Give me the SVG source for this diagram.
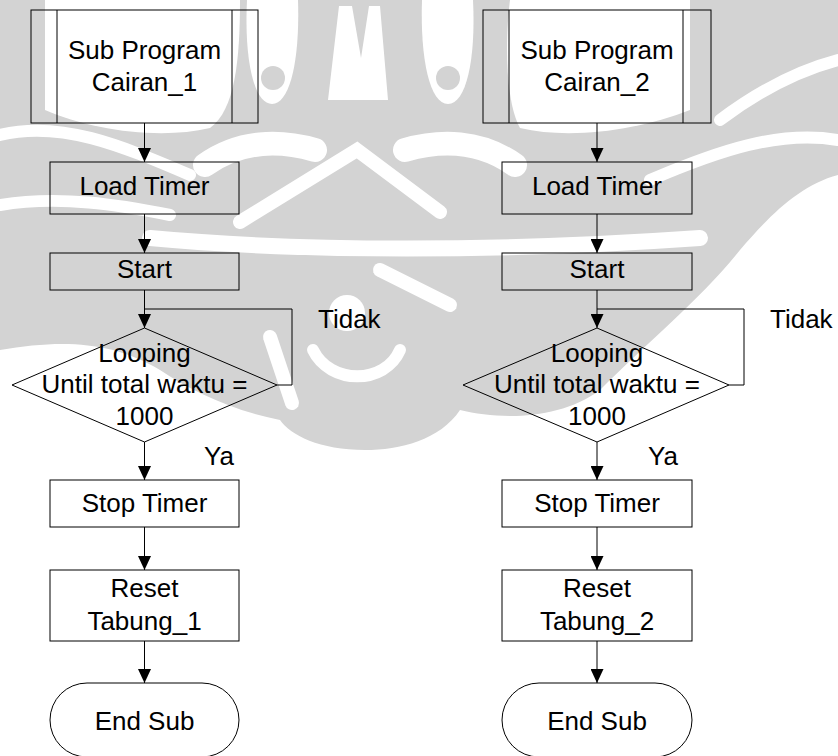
<svg xmlns="http://www.w3.org/2000/svg" width="838" height="756" viewBox="0 0 838 756">
  <defs>
    <marker id="arrow" viewBox="0 0 14 13" refX="14" refY="6.5" markerWidth="14" markerHeight="13" markerUnits="userSpaceOnUse" orient="auto">
      <path d="M0,0 L14,6.5 L0,13 Z" fill="#000"/>
    </marker>
  </defs>
  <style>
    .shape { fill: none; stroke: #000; stroke-width: 1; }
    .wire { fill: none; stroke: #000; stroke-width: 1; }
    .flow { marker-end: url(#arrow); }
    .lbl { font-family: "Liberation Sans", Arial, sans-serif; font-size: 26px; fill: #000; text-anchor: middle; }
    .tag { font-family: "Liberation Sans", Arial, sans-serif; font-size: 26px; fill: #000; }
    .wm { fill: #d3d3d3; }
    .wm-cut { fill: #fff; }
    .wm-line { fill: none; stroke: #fff; stroke-linecap: round; }
  </style>

  <rect width="838" height="756" fill="#fff"/>

  <!-- background emblem -->
  <g id="emblem">
    <path class="wm" d="M0,0 H838 V175 C800,185 770,215 740,250 C700,300 650,340 600,390 C560,420 500,420 460,410 C440,440 400,450 365,450 C320,450 290,435 280,420 C230,410 190,390 160,370 C110,340 60,340 0,350 Z"/>
    <path class="wm-cut" d="M45,0 H240 C240,60 235,110 210,128 C160,140 90,130 45,110 Z"/>
    <path class="wm-cut" d="M510,0 H690 V110 C640,130 570,140 520,128 C505,100 505,40 510,0 Z"/>
    <path class="wm-cut" d="M339,6 L352,6 L361,58 L369,6 L380,6 L388,100 L328,100 Z"/>
    <path class="wm-cut" d="M422,0 C420,60 430,104 448,104 C466,104 476,60 473,0 Z"/>
    <path class="wm-cut" d="M247,0 C244,60 254,104 272,104 C290,104 300,60 298,0 Z"/>
    <circle class="wm" cx="448" cy="78" r="12"/>
    <circle class="wm" cx="273" cy="78" r="12"/>
    <path class="wm-line" stroke-width="14" d="M240,222 L357,150 L440,212"/>
    <path class="wm-line" stroke-width="24" d="M405,150 C440,140 480,140 515,165"/>
    <path class="wm-line" stroke-width="24" d="M315,150 C280,140 240,140 205,165"/>
    <path class="wm-line" stroke-width="16" d="M150,238 C300,252 500,252 700,238"/>
    <path class="wm-line" stroke-width="12" d="M0,135 C60,120 120,145 190,175"/>
    <path class="wm-line" stroke-width="12" d="M0,205 C60,195 120,205 170,215"/>
    <path class="wm-line" stroke-width="12" d="M838,140 C780,130 720,150 650,180"/>
    <path class="wm-line" stroke-width="12" d="M838,60 C800,70 760,90 720,120"/>
    <circle class="wm-cut" cx="347" cy="313" r="18"/>
    <path class="wm-line" stroke-width="12" d="M313,350 C330,385 385,385 400,350"/>
    <path class="wm-line" stroke-width="14" d="M380,270 L450,305"/>
    <path class="wm-line" stroke-width="14" d="M270,337 L292,403"/>
  </g>

  <!-- connectors -->
  <g id="connectors">
    <line class="wire flow" x1="144.5" y1="123" x2="144.5" y2="162"/>
    <line class="wire flow" x1="144.5" y1="214" x2="144.5" y2="253"/>
    <line class="wire flow" x1="144.5" y1="290" x2="144.5" y2="328"/>
    <polyline class="wire" points="277,385 292,385 292,309 144.5,309"/>
    <line class="wire flow" x1="144.5" y1="442" x2="144.5" y2="480"/>
    <line class="wire flow" x1="144.5" y1="527" x2="144.5" y2="570"/>
    <line class="wire flow" x1="144.5" y1="641" x2="144.5" y2="683"/>

    <line class="wire flow" x1="597" y1="123" x2="597" y2="162"/>
    <line class="wire flow" x1="597" y1="214" x2="597" y2="253"/>
    <line class="wire flow" x1="597" y1="290" x2="597" y2="328"/>
    <polyline class="wire" points="729,385 744,385 744,309 597,309"/>
    <line class="wire flow" x1="597" y1="442" x2="597" y2="480"/>
    <line class="wire flow" x1="597" y1="527" x2="597" y2="570"/>
    <line class="wire flow" x1="597" y1="641" x2="597" y2="683"/>

    <text class="tag" x="318" y="328">Tidak</text>
    <text class="tag" x="204" y="465">Ya</text>
    <text class="tag" x="770" y="328">Tidak</text>
    <text class="tag" x="648" y="465">Ya</text>
  </g>

  <!-- left flow -->
  <g id="sub1">
    <rect class="shape" x="31" y="10" width="227" height="113"/>
    <line class="shape" x1="57" y1="10" x2="57" y2="123"/>
    <line class="shape" x1="232" y1="10" x2="232" y2="123"/>
    <text class="lbl" x="144.5" y="59">Sub Program</text>
    <text class="lbl" x="144.5" y="91">Cairan_1</text>
  </g>
  <g id="load1">
    <rect class="shape" x="50" y="162" width="189" height="52"/>
    <text class="lbl" x="144.5" y="195">Load Timer</text>
  </g>
  <g id="start1">
    <rect class="shape" x="50" y="253" width="189" height="37"/>
    <text class="lbl" x="144.5" y="278">Start</text>
  </g>
  <g id="loop1">
    <polygon class="shape" points="144.5,328 277,385 144.5,442 12,385"/>
    <text class="lbl" x="144.5" y="362">Looping</text>
    <text class="lbl" x="144.5" y="393">Until total waktu =</text>
    <text class="lbl" x="144.5" y="425">1000</text>
  </g>
  <g id="stop1">
    <rect class="shape" x="50" y="480" width="189" height="47"/>
    <text class="lbl" x="144.5" y="512">Stop Timer</text>
  </g>
  <g id="reset1">
    <rect class="shape" x="50" y="570" width="189" height="71"/>
    <text class="lbl" x="144.5" y="597">Reset</text>
    <text class="lbl" x="144.5" y="630">Tabung_1</text>
  </g>
  <g id="end1">
    <rect class="shape" x="50" y="683" width="189" height="74" rx="37" ry="37"/>
    <text class="lbl" x="144.5" y="730">End Sub</text>
  </g>

  <!-- right flow -->
  <g id="sub2">
    <rect class="shape" x="483" y="10" width="228" height="113"/>
    <line class="shape" x1="509" y1="10" x2="509" y2="123"/>
    <line class="shape" x1="683" y1="10" x2="683" y2="123"/>
    <text class="lbl" x="597" y="59">Sub Program</text>
    <text class="lbl" x="597" y="91">Cairan_2</text>
  </g>
  <g id="load2">
    <rect class="shape" x="502" y="162" width="190" height="52"/>
    <text class="lbl" x="597" y="195">Load Timer</text>
  </g>
  <g id="start2">
    <rect class="shape" x="502" y="253" width="190" height="37"/>
    <text class="lbl" x="597" y="278">Start</text>
  </g>
  <g id="loop2">
    <polygon class="shape" points="597,328 729,385 597,442 463,385"/>
    <text class="lbl" x="597" y="362">Looping</text>
    <text class="lbl" x="597" y="393">Until total waktu =</text>
    <text class="lbl" x="597" y="425">1000</text>
  </g>
  <g id="stop2">
    <rect class="shape" x="502" y="480" width="190" height="47"/>
    <text class="lbl" x="597" y="512">Stop Timer</text>
  </g>
  <g id="reset2">
    <rect class="shape" x="502" y="570" width="190" height="71"/>
    <text class="lbl" x="597" y="597">Reset</text>
    <text class="lbl" x="597" y="630">Tabung_2</text>
  </g>
  <g id="end2">
    <rect class="shape" x="502" y="683" width="190" height="74" rx="37" ry="37"/>
    <text class="lbl" x="597" y="730">End Sub</text>
  </g>
</svg>
